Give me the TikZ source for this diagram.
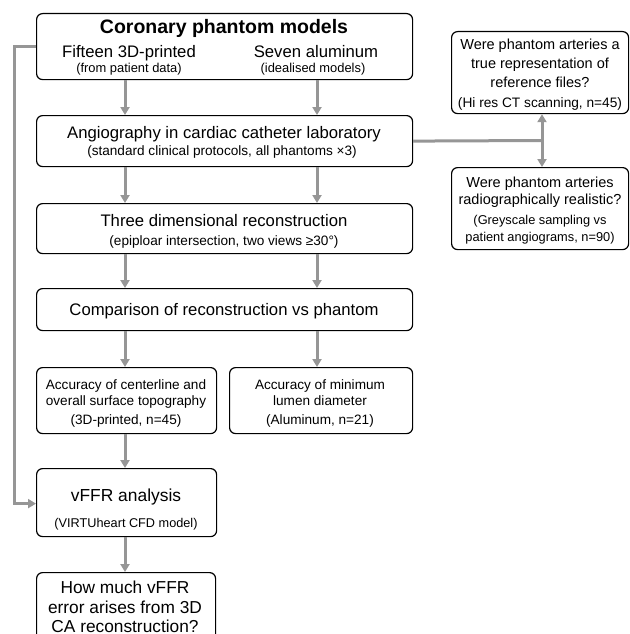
\documentclass[tikz,border=0pt]{standalone}
\usepackage{fontspec}
\setmainfont{Liberation Sans}
\usetikzlibrary{arrows.meta}
\definecolor{conncol}{RGB}{150,150,150}
\tikzset{
  x=1pt, y=-1pt,
  box/.style={draw=black, line width=1.2pt, rounded corners=6pt, fill=white, inner sep=0pt, anchor=north west},
  conn/.style={draw=conncol, line width=3pt},
  arr/.style={conn, -{Triangle[width=9pt,length=8pt]}},
  txt/.style={inner sep=0pt, anchor=base},
  ttl/.style={txt, font=\fontsize{19.5}{22}\selectfont\bfseries},
  big/.style={txt, font=\fontsize{16.7}{20}\selectfont},
  sml/.style={txt, font=\fontsize{13}{15}\selectfont},
  mid/.style={txt, font=\fontsize{13.6}{16}\selectfont},
  q/.style={txt, font=\fontsize{14.5}{17}\selectfont},
}
\begin{document}
\begin{tikzpicture}
\clip (0,0) rectangle (629,634);
\fill[white] (0,0) rectangle (629,634);
% boxes
\node[box, minimum width=376pt, minimum height=66pt] (b1) at (36,13) {};
\node[box, minimum width=376pt, minimum height=51pt] (b2) at (36,115) {};
\node[box, minimum width=376pt, minimum height=50pt] (b3) at (36,203) {};
\node[box, minimum width=376pt, minimum height=42pt] (b4) at (36,288) {};
\node[box, minimum width=180pt, minimum height=66pt] (b5a) at (36,367) {};
\node[box, minimum width=183pt, minimum height=66pt] (b5b) at (229,367) {};
\node[box, minimum width=180pt, minimum height=68pt] (b6) at (36,468) {};
\node[box, minimum width=179pt, minimum height=90pt] (b7) at (36,572) {};
\node[box, minimum width=177pt, minimum height=82pt] (r1) at (451,31) {};
\node[box, minimum width=177pt, minimum height=82pt] (r2) at (451,167) {};
% texts
\node[ttl] (t1) at (224,34) {Coronary phantom models};
\node[big] (t1a) at (129,57) {Fifteen 3D-printed};
\node[big] (t1b) at (316,57) {Seven aluminum};
\node[txt, font=\fontsize{12.9}{15}\selectfont] (t1c) at (129,73) {(from patient data)};
\node[txt, font=\fontsize{12.9}{15}\selectfont] (t1d) at (313,73) {(idealised models)};
\node[big] (t2a) at (224,138) {Angiography in cardiac catheter laboratory};
\node[sml, font=\fontsize{13.6}{16}\selectfont] (t2b) at (222,155) {(standard clinical protocols, all phantoms ×3)};
\node[big] (t3a) at (224,226) {Three dimensional reconstruction};
\node[sml, font=\fontsize{13.6}{16}\selectfont] (t3b) at (224,245) {(epiploar intersection, two views ≥30°)};
\node[big] (t4) at (224,315) {Comparison of reconstruction vs phantom};
\node[mid] (t5a1) at (126,389) {Accuracy of centerline and};
\node[mid] (t5a2) at (126,405) {overall surface topography};
\node[mid] (t5a3) at (126,424) {(3D-printed, n=45)};
\node[mid] (t5b1) at (320,389) {Accuracy of minimum};
\node[mid] (t5b2) at (320,405) {lumen diameter};
\node[mid] (t5b3) at (320,424) {(Aluminum, n=21)};
\node[txt, font=\fontsize{17.4}{20}\selectfont] (t6a) at (126,501) {vFFR analysis};
\node[txt, font=\fontsize{12.7}{15}\selectfont] (t6b) at (126,527) {(VIRTUheart CFD model)};
\node[txt, font=\fontsize{17.3}{20}\selectfont] (t7a) at (125,593) {How much vFFR};
\node[txt, font=\fontsize{17.3}{20}\selectfont] (t7b) at (125,613) {error arises from 3D};
\node[txt, font=\fontsize{17.3}{20}\selectfont] (t7c) at (125,632) {CA reconstruction?};
\node[q] (r1a) at (540,49) {Were phantom arteries a};
\node[q] (r1b) at (540,68.5) {true representation of};
\node[q] (r1c) at (540,88) {reference files?};
\node[txt, font=\fontsize{13.7}{16}\selectfont] (r1d) at (540,107) {(Hi res CT scanning, n=45)};
\node[q] (r2a) at (540,187) {Were phantom arteries};
\node[q] (r2b) at (540,204) {radiographically realistic?};
\node[txt, font=\fontsize{12.8}{15}\selectfont] (r2c) at (540,224) {(Greyscale sampling vs};
\node[txt, font=\fontsize{12.8}{15}\selectfont] (r2d) at (540,241) {patient angiograms, n=90)};
% connectors
\coordinate (c1) at (125,0);
\coordinate (c2) at (317,0);
\coordinate (j) at (542,140.5);
\draw[arr] (b1.south -| c1) -- (b2.north -| c1);
\draw[arr] (b1.south -| c2) -- (b2.north -| c2);
\draw[arr] (b2.south -| c1) -- (b3.north -| c1);
\draw[arr] (b2.south -| c2) -- (b3.north -| c2);
\draw[arr] (b3.south -| c1) -- (b4.north -| c1);
\draw[arr] (b3.south -| c2) -- (b4.north -| c2);
\draw[arr] (b4.south -| c1) -- (b5a.north -| c1);
\draw[arr] (b4.south -| c2) -- (b5b.north -| c2);
\draw[arr] (b5a.south -| c1) -- (b6.north -| c1);
\draw[arr] (b6.south -| c1) -- (b7.north -| c1);
\draw[conn] (b2.east) -- (j);
\draw[arr] (j) -- (j |- r1.south);
\draw[arr] (j) -- (j |- r2.north);
\draw[arr] (b1.west) -- ++(-22,0) |- ([yshift=-1pt]b6.west);
\end{tikzpicture}
\end{document}
